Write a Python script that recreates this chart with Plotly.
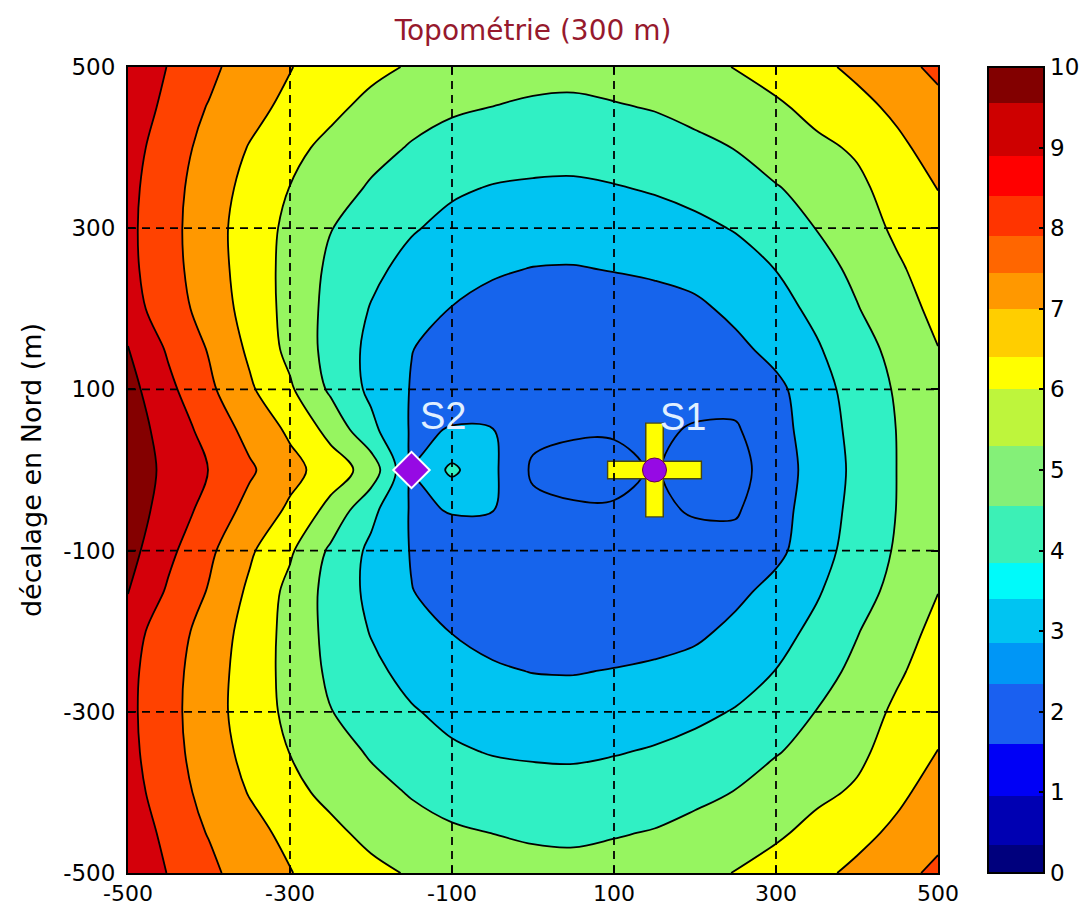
import plotly.graph_objects as go

# ---------------- data ----------------
x_vals = [-500, -450, -400, -350, -300, -250, -200, -150, -100, -50, 0,
          50, 100, 150, 200, 250, 300, 350, 400, 450, 500]
y_vals = [-500, -450, -400, -350, -300, -250, -200, -150, -100, -50, 0,
          50, 100, 150, 200, 250, 300, 350, 400, 450, 500]

# z values, one row per y (from y=-500 up to y=500)
z_rows = [
    [9.75, 8.96, 8.30, 7.34, 7.03, 6.65, 6.27, 5.90, 5.60, 5.40, 5.30, 5.28, 5.40, 5.52, 5.75, 6.03, 6.40, 6.78, 7.21, 7.72, 8.20],
    [9.65, 8.73, 7.93, 7.31, 6.75, 6.25, 5.71, 5.35, 5.11, 4.99, 4.88, 4.84, 4.93, 5.05, 5.25, 5.54, 5.85, 6.28, 6.72, 7.20, 7.75],
    [9.40, 8.49, 7.66, 6.95, 6.29, 5.73, 5.30, 4.93, 4.68, 4.48, 4.37, 4.34, 4.44, 4.57, 4.80, 5.03, 5.40, 5.80, 6.12, 6.80, 7.39],
    [9.27, 8.35, 7.49, 6.70, 5.98, 5.42, 4.90, 4.56, 4.13, 3.95, 3.88, 3.86, 3.95, 4.08, 4.26, 4.53, 4.95, 5.29, 5.80, 6.40, 7.02],
    [9.22, 8.31, 7.40, 6.55, 5.77, 5.03, 4.50, 4.08, 3.75, 3.52, 3.44, 3.41, 3.50, 3.62, 3.81, 4.05, 4.53, 5.02, 5.56, 6.17, 6.72],
    [9.25, 8.35, 7.44, 6.57, 5.69, 4.82, 4.22, 3.71, 3.32, 3.10, 2.98, 2.96, 3.04, 3.15, 3.39, 3.65, 4.02, 4.64, 5.22, 5.88, 6.45],
    [9.39, 8.50, 7.58, 6.64, 5.68, 4.71, 3.95, 3.45, 2.97, 2.75, 2.62, 2.58, 2.60, 2.65, 2.78, 3.25, 3.67, 4.22, 4.95, 5.60, 6.25],
    [10.05, 8.87, 7.93, 6.83, 5.73, 4.67, 3.76, 3.02, 2.70, 2.60, 2.50, 2.45, 2.45, 2.45, 2.50, 2.75, 3.31, 3.90, 4.59, 5.31, 5.98],
    [10.35, 9.23, 8.19, 7.15, 6.14, 4.84, 3.79, 2.95, 2.75, 2.60, 2.45, 2.35, 2.30, 2.25, 2.22, 2.35, 2.75, 3.61, 4.40, 5.11, 5.77],
    [10.45, 9.64, 8.62, 7.70, 6.83, 5.69, 4.26, 2.90, 3.03, 3.02, 2.25, 2.05, 2.05, 2.10, 1.95, 1.90, 2.63, 3.48, 4.29, 5.03, 5.78],
    [10.50, 9.79, 8.98, 8.14, 7.32, 6.53, 5.59, 3.02, 4.20, 3.20, 1.85, 1.85, 1.85, 2.05, 1.75, 1.65, 2.51, 3.40, 4.22, 5.02, 5.72],
    [10.45, 9.64, 8.62, 7.70, 6.83, 5.69, 4.26, 2.90, 3.03, 3.02, 2.25, 2.05, 2.05, 2.10, 1.95, 1.90, 2.63, 3.48, 4.29, 5.03, 5.78],
    [10.35, 9.23, 8.19, 7.15, 6.14, 4.84, 3.79, 2.95, 2.75, 2.60, 2.45, 2.35, 2.30, 2.25, 2.22, 2.35, 2.75, 3.61, 4.40, 5.11, 5.77],
    [10.05, 8.87, 7.93, 6.83, 5.73, 4.67, 3.76, 3.02, 2.70, 2.60, 2.50, 2.45, 2.45, 2.45, 2.50, 2.75, 3.31, 3.90, 4.59, 5.31, 5.98],
    [9.39, 8.50, 7.58, 6.64, 5.68, 4.71, 3.95, 3.45, 2.97, 2.75, 2.62, 2.58, 2.60, 2.65, 2.78, 3.25, 3.67, 4.22, 4.95, 5.60, 6.25],
    [9.25, 8.35, 7.44, 6.57, 5.69, 4.82, 4.22, 3.71, 3.32, 3.10, 2.98, 2.96, 3.04, 3.15, 3.39, 3.65, 4.02, 4.64, 5.22, 5.88, 6.45],
    [9.22, 8.31, 7.40, 6.55, 5.77, 5.03, 4.50, 4.08, 3.75, 3.52, 3.44, 3.41, 3.50, 3.62, 3.81, 4.05, 4.53, 5.02, 5.56, 6.17, 6.72],
    [9.27, 8.35, 7.49, 6.70, 5.98, 5.42, 4.90, 4.56, 4.13, 3.95, 3.88, 3.86, 3.95, 4.08, 4.26, 4.53, 4.95, 5.29, 5.80, 6.40, 7.02],
    [9.40, 8.49, 7.66, 6.95, 6.29, 5.73, 5.30, 4.93, 4.68, 4.48, 4.37, 4.34, 4.44, 4.57, 4.80, 5.03, 5.40, 5.80, 6.12, 6.80, 7.39],
    [9.65, 8.73, 7.93, 7.31, 6.75, 6.25, 5.71, 5.35, 5.11, 4.99, 4.88, 4.84, 4.93, 5.05, 5.25, 5.54, 5.85, 6.28, 6.72, 7.20, 7.75],
    [9.75, 8.96, 8.30, 7.34, 7.03, 6.65, 6.27, 5.90, 5.60, 5.40, 5.30, 5.28, 5.40, 5.52, 5.75, 6.03, 6.40, 6.78, 7.21, 7.72, 8.20],
]

level_start = 2
level_end = 10
level_step = 1

# colour of each filled band: below 2, 2-3, 3-4, ..., 9-10, above 10
band_colors = [
    "rgb(22,100,236)", "rgb(22,100,236)", "rgb(0,196,242)", "rgb(48,240,196)",
    "rgb(150,245,96)", "rgb(255,255,0)", "rgb(255,152,0)", "rgb(255,66,0)",
    "rgb(212,0,10)", "rgb(132,0,0)",
]

# colour bar steps (value bounds and colours)
cbar_bounds = [0, 0.35, 0.95, 1.6, 2.35, 2.85, 3.4, 3.85, 4.55, 5.3, 6.0,
               6.4, 7.0, 7.45, 7.9, 8.4, 8.9, 9.55, 10]
cbar_colors = [
    "rgb(0,0,125)", "rgb(0,0,178)", "rgb(0,0,246)", "rgb(26,96,240)",
    "rgb(0,150,246)", "rgb(0,196,242)", "rgb(0,250,250)", "rgb(60,240,182)",
    "rgb(132,240,120)", "rgb(190,245,60)", "rgb(255,255,0)", "rgb(255,206,0)",
    "rgb(255,152,0)", "rgb(255,102,0)", "rgb(255,52,0)", "rgb(255,0,0)",
    "rgb(206,0,0)", "rgb(130,0,0)",
]
cbar_ticks = [0, 1, 2, 3, 4, 5, 6, 7, 8, 9, 10]

axis_ticks = [-500, -300, -100, 100, 300, 500]

station_names = ["S1", "S2"]
station_x = [150, -150]
station_y = [0, 0]

title_text = "Topométrie (300 m)"
ylabel_text = "décalage en Nord (m)"

# ---------------- figure ----------------
zmin = level_start - level_step / 2
zmax = level_end + level_step / 2
nb = len(band_colors)
contour_scale = [[i / (nb - 1), c] for i, c in enumerate(band_colors)]

cb_scale = []
lo, hi = cbar_bounds[0], cbar_bounds[-1]
for i, c in enumerate(cbar_colors):
    cb_scale.append([(cbar_bounds[i] - lo) / (hi - lo), c])
    cb_scale.append([(cbar_bounds[i + 1] - lo) / (hi - lo), c])

fig = go.Figure()

fig.add_trace(go.Contour(
    x=x_vals, y=y_vals, z=z_rows,
    autocontour=False,
    contours=dict(start=level_start, end=level_end, size=level_step,
                  coloring="fill", showlines=True),
    colorscale=contour_scale, zauto=False, zmin=zmin, zmax=zmax,
    line=dict(color="black", width=1.8, smoothing=1.0),
    showscale=False, hoverinfo="skip",
))

# S1 : yellow cross with purple dot
s1x, s1y = [station_x[0]], [station_y[0]]
fig.add_trace(go.Scatter(
    x=s1x, y=s1y, mode="markers", hoverinfo="skip",
    marker=dict(symbol="cross-thin", size=68, color="rgb(70,70,20)",
                line=dict(width=19, color="rgb(70,70,20)")),
))
fig.add_trace(go.Scatter(
    x=s1x, y=s1y, mode="markers", hoverinfo="skip",
    marker=dict(symbol="cross-thin", size=66, color="rgb(255,255,0)",
                line=dict(width=16, color="rgb(255,255,0)")),
))
fig.add_trace(go.Scatter(
    x=s1x, y=s1y, mode="markers", hoverinfo="skip",
    marker=dict(symbol="circle", size=24, color="rgb(150,10,228)",
                line=dict(width=1, color="rgb(110,0,70)")),
))
# S2 : purple diamond with white edge
fig.add_trace(go.Scatter(
    x=[station_x[1]], y=[station_y[1]], mode="markers", hoverinfo="skip",
    marker=dict(symbol="diamond", size=28, color="rgb(150,10,228)",
                line=dict(width=2, color="white")),
))

# colour bar carrier (invisible point)
fig.add_trace(go.Scatter(
    x=s1x, y=s1y, mode="markers", hoverinfo="skip",
    marker=dict(size=1, opacity=0, color=[cbar_bounds[0]],
                colorscale=cb_scale, cmin=lo, cmax=hi, showscale=True,
                colorbar=dict(
                    xref="container", x=988 / 1092, xanchor="left", xpad=0,
                    y=0.5, yanchor="middle", ypad=0,
                    len=1.0, lenmode="fraction", thickness=56,
                    outlinewidth=2, outlinecolor="black",
                    tickvals=cbar_ticks, ticktext=[str(t) for t in cbar_ticks],
                    ticks="inside", ticklen=6, tickwidth=2, tickcolor="black",
                    tickfont=dict(family="DejaVu Sans", size=23, color="black"),
                )),
))

label_shift = {"S1": (28, 53), "S2": (31, 54)}
for name, sx, sy in zip(station_names, station_x, station_y):
    dx, dy = label_shift[name]
    fig.add_annotation(x=sx, y=sy, xref="x", yref="y", text=name,
                       showarrow=False, xshift=dx, yshift=dy,
                       xanchor="center", yanchor="middle",
                       font=dict(family="Liberation Sans", size=38,
                                 color="rgb(225,240,255)"))

# dashed grid above the filled contours
for v in axis_ticks[1:-1]:
    fig.add_shape(type="line", xref="x", yref="y", x0=v, x1=v,
                  y0=axis_ticks[0], y1=axis_ticks[-1], layer="above",
                  line=dict(color="black", width=1.8, dash="8px,6px"))
    fig.add_shape(type="line", xref="x", yref="y", y0=v, y1=v,
                  x0=axis_ticks[0], x1=axis_ticks[-1], layer="above",
                  line=dict(color="black", width=1.8, dash="8px,6px"))

axis_common = dict(
    range=[axis_ticks[0], axis_ticks[-1]], tickvals=axis_ticks,
    ticktext=[str(t) for t in axis_ticks],
    showgrid=False, zeroline=False, showline=True, mirror="ticks",
    linecolor="black", linewidth=2, ticks="inside", ticklen=7,
    tickwidth=1.5, tickcolor="black", layer="above traces",
    automargin=False,
)

fig.update_layout(
    width=1092, height=911,
    paper_bgcolor="white", plot_bgcolor="white",
    margin=dict(l=128, r=154, t=67, b=38, autoexpand=False),
    showlegend=False,
    title=dict(text=title_text, x=0.5, xref="paper", xanchor="center",
               y=1 - 30 / 911, yref="container", yanchor="middle",
               font=dict(family="DejaVu Sans", size=28, color="rgb(150,25,45)")),
    xaxis=dict(**axis_common, ticklabelstandoff=0,
               tickfont=dict(family="DejaVu Sans", size=22, color="black")),
    yaxis=dict(**axis_common, ticklabelstandoff=6,
               tickfont=dict(family="DejaVu Sans", size=23, color="black"),
               title=dict(text=ylabel_text, standoff=14,
                          font=dict(family="DejaVu Sans", size=27, color="black"))),
)

fig.write_html("out.html",
               config={"displayModeBar": False},
               post_script="document.body.style.margin='0px';"
                           "document.body.style.overflow='hidden';")
